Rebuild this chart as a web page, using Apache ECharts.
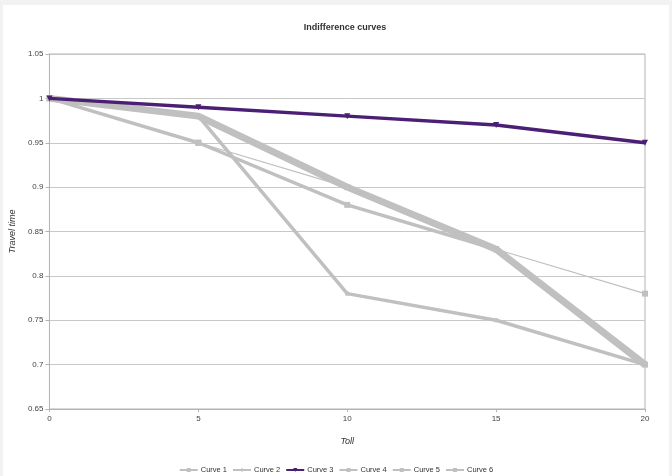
<!DOCTYPE html>
<html>
<head>
<meta charset="utf-8">
<script src="https://cdn.jsdelivr.net/npm/echarts@6/dist/echarts.min.js"></script>
<style>
  html, body { margin: 0; padding: 0; background: #f2f2f2; width: 672px; height: 476px; overflow: hidden; }
  #panel { position: absolute; left: 3px; top: 5px; width: 666px; height: 471px; background: #ffffff; }
  #chart { position: absolute; left: 0; top: 0; width: 672px; height: 476px; }
</style>
</head>
<body>
<div id="panel"></div>
<div id="chart"></div>
<script>
// Toll levels on the x axis
const tolls = [0, 5, 10, 15, 20];
// Travel time along each indifference curve
const curve1 = [1, 0.95, 0.90, 0.83, 0.78];
const curve2 = [1, 0.98, 0.90, 0.83, 0.70];
const curve3 = [1, 0.99, 0.98, 0.97, 0.95];
const curve4 = [1, 0.95, 0.88, 0.83, 0.70];
const curve5 = [1, 0.98, 0.78, 0.75, 0.70];
const curve6 = [1, 0.98, 0.90, 0.83, 0.70];
const seriesNames = ['Curve 1', 'Curve 2', 'Curve 3', 'Curve 4', 'Curve 5', 'Curve 6'];

const gray = '#c0c0c0';
const purple = '#4a1f74';
const font = 'Liberation Sans, Arial, sans-serif';

function pairs(vals) {
  return tolls.map((t, i) => [t, vals[i]]);
}

function line(name, vals, opts) {
  return Object.assign({
    name: name,
    type: 'line',
    data: pairs(vals),
    color: gray,
    symbol: 'rect',
    symbolSize: 5,
    showSymbol: true,
    lineStyle: { width: 3, color: gray },
    itemStyle: { color: gray },
    emphasis: { disabled: true },
    animation: false
  }, opts);
}

const chart = echarts.init(document.getElementById('chart'), null, { renderer: 'canvas' });
chart.setOption({
  animation: false,
  backgroundColor: 'transparent',
  title: {
    text: 'Indifference curves',
    left: 340,
    textAlign: 'center',
    top: 18,
    textStyle: { fontFamily: font, fontSize: 9, fontWeight: 'bold', color: '#333' }
  },
  legend: {
    top: 461,
    left: 'center',
    itemWidth: 18,
    itemHeight: 5,
    itemGap: 5,
    data: seriesNames,
    textStyle: { fontFamily: font, fontSize: 7.5, color: '#333', padding: [0, 0, 0, -2] }
  },
  grid: {
    left: 46, right: 27, top: 54, bottom: 67,
    show: true, borderColor: '#b3b3b3', borderWidth: 1, backgroundColor: '#ffffff'
  },
  xAxis: {
    type: 'value',
    min: 0, max: 20, interval: 5,
    name: 'Toll',
    nameLocation: 'middle',
    nameGap: 28,
    nameTextStyle: { fontFamily: font, fontSize: 9, fontStyle: 'italic', color: '#333' },
    axisLine: { lineStyle: { color: '#b3b3b3' } },
    axisTick: { show: true, length: 3, lineStyle: { color: '#b3b3b3' } },
    axisLabel: { fontFamily: font, fontSize: 8, color: '#444', margin: 6 },
    splitLine: { show: false }
  },
  yAxis: {
    type: 'value',
    min: 0.65, max: 1.05, interval: 0.05,
    name: 'Travel time',
    nameLocation: 'middle',
    nameGap: 32,
    nameRotate: 90,
    nameTextStyle: { fontFamily: font, fontSize: 9, fontStyle: 'italic', color: '#333' },
    axisLine: { show: true, lineStyle: { color: '#b3b3b3' } },
    axisTick: { show: true, length: 4, lineStyle: { color: '#b3b3b3' } },
    axisLabel: {
      fontFamily: font, fontSize: 8, color: '#444', margin: 6,
      formatter: v => String(Math.round(v * 100) / 100)
    },
    splitLine: { show: true, lineStyle: { color: '#c8c8c8', width: 1 } }
  },
  series: [
    line('Curve 1', curve1, { lineStyle: { width: 1.2, color: gray }, symbol: 'rect', symbolSize: 6, z: 3 }),
    line('Curve 2', curve2, { lineStyle: { width: 1.2, color: gray }, symbol: 'diamond', symbolSize: 5, z: 2 }),
    line('Curve 3', curve3, {
      color: purple,
      lineStyle: { width: 3.5, color: purple },
      itemStyle: { color: purple },
      symbol: 'triangle', symbolRotate: 180, symbolSize: 6, z: 10
    }),
    line('Curve 4', curve4, { lineStyle: { width: 3.5, color: gray }, symbol: 'rect', symbolSize: 6, z: 4 }),
    line('Curve 5', curve5, { lineStyle: { width: 3.5, color: gray }, symbol: 'rect', symbolSize: 4, z: 5 }),
    line('Curve 6', curve6, { lineStyle: { width: 7, color: gray }, symbol: 'rect', symbolSize: 4, z: 6 })
  ]
});
</script>
</body>
</html>
